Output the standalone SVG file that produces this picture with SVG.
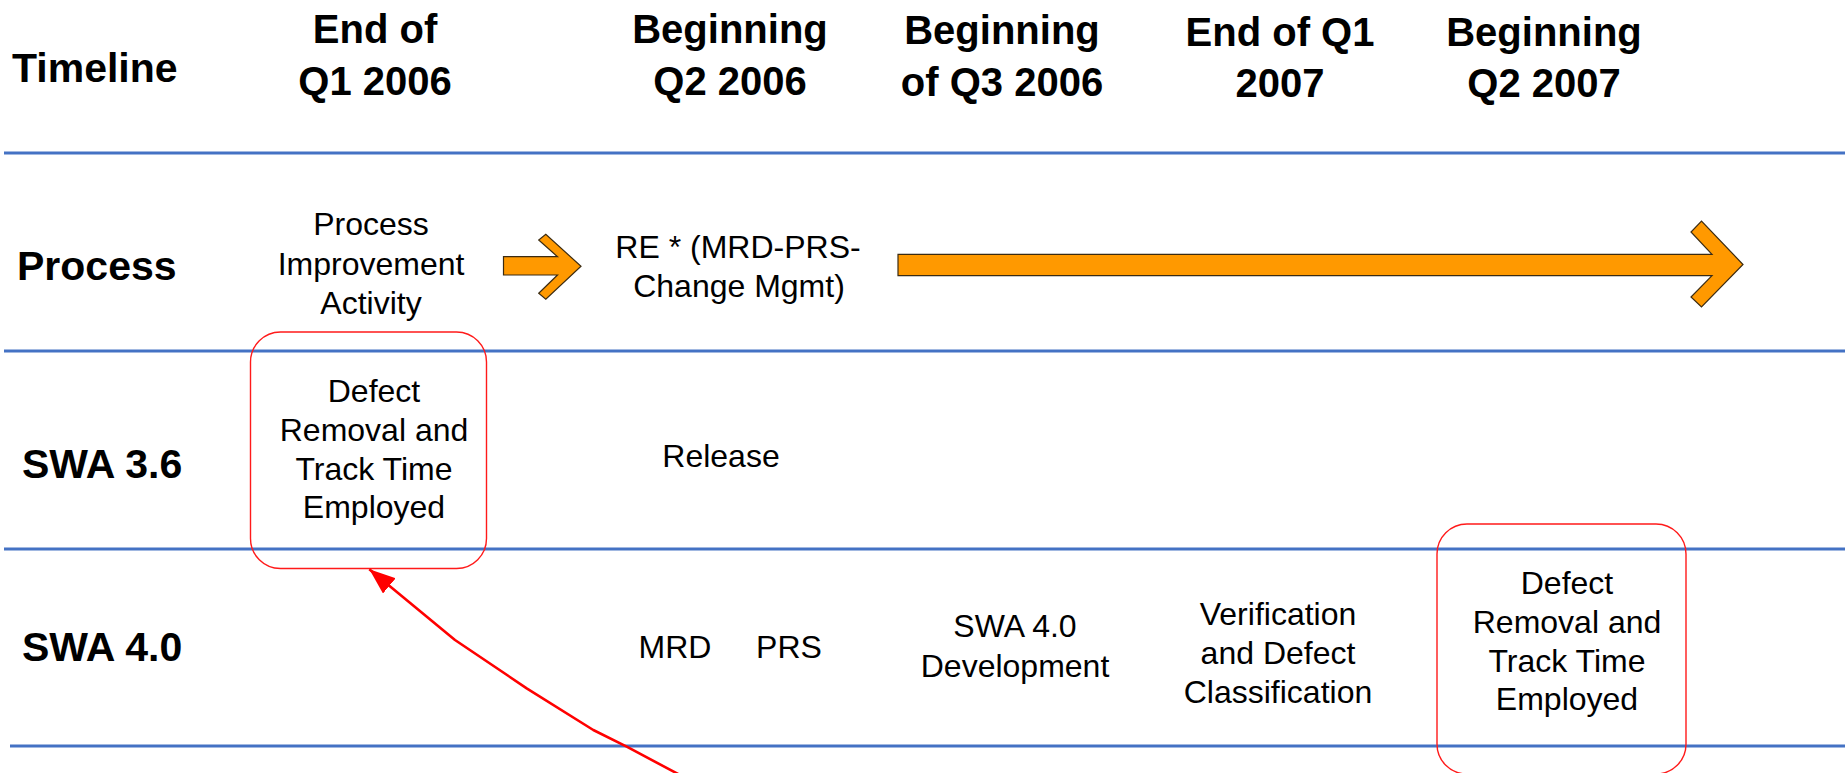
<svg xmlns="http://www.w3.org/2000/svg" width="1845" height="773" viewBox="0 0 1845 773">
  <style>
    .bold { font-family: "Liberation Sans", Arial, sans-serif; font-weight: bold; font-size: 40px; fill: #000; }
    .lane { font-size: 41px; }
    .body { font-family: "Liberation Sans", Arial, sans-serif; font-size: 32px; fill: #000; text-anchor: middle; }
    .hdr { text-anchor: middle; }
    .rule { stroke: #4472c4; stroke-width: 3; fill: none; }
    .block { fill: #ff9900; stroke: #3b2b12; stroke-width: 1.2; stroke-linejoin: miter; }
    .callout { fill: none; stroke: #ff1a1a; stroke-width: 1.4; }
    .pointer { fill: none; stroke: #ff0000; stroke-width: 2.6; stroke-linejoin: round; }
  </style>
  <defs>
    <marker id="redHead" markerUnits="userSpaceOnUse" markerWidth="30" markerHeight="24" refX="26" refY="10" orient="auto">
      <path d="M0,0 L26,10 L0,20 Z" fill="#ff0000"/>
    </marker>
  </defs>

  <rect width="1845" height="773" fill="#ffffff"/>

  <!-- swimlane rules -->
  <g id="rules">
    <line class="rule" x1="4" y1="153" x2="1845" y2="153"/>
    <line class="rule" x1="4" y1="351" x2="1845" y2="351"/>
    <line class="rule" x1="4" y1="549" x2="1845" y2="549"/>
    <line class="rule" x1="10" y1="746" x2="1845" y2="746"/>
  </g>

  <!-- column headings -->
  <g id="header-timeline"><text class="bold lane" x="12" y="82">Timeline</text></g>
  <g id="header-q1-2006" class="bold hdr">
    <text x="375" y="43">End of</text>
    <text x="375" y="95">Q1 2006</text>
  </g>
  <g id="header-q2-2006" class="bold hdr">
    <text x="730" y="43">Beginning</text>
    <text x="730" y="95">Q2 2006</text>
  </g>
  <g id="header-q3-2006" class="bold hdr">
    <text x="1002" y="44">Beginning</text>
    <text x="1002" y="96">of Q3 2006</text>
  </g>
  <g id="header-q1-2007" class="bold hdr">
    <text x="1280" y="46">End of Q1</text>
    <text x="1280" y="97">2007</text>
  </g>
  <g id="header-q2-2007" class="bold hdr">
    <text x="1544" y="46">Beginning</text>
    <text x="1544" y="97">Q2 2007</text>
  </g>

  <!-- row labels -->
  <g id="row-process"><text class="bold lane" x="17" y="280">Process</text></g>
  <g id="row-swa36"><text class="bold lane" x="22" y="478">SWA 3.6</text></g>
  <g id="row-swa40"><text class="bold lane" x="22" y="661">SWA 4.0</text></g>

  <!-- process lane -->
  <g id="process-improvement" class="body">
    <text x="371" y="235">Process</text>
    <text x="371" y="275">Improvement</text>
    <text x="371" y="314">Activity</text>
  </g>
  <g id="re-mrd-prs" class="body">
    <text x="738" y="258">RE * (MRD-PRS-</text>
    <text x="739" y="297">Change Mgmt)</text>
  </g>

  <!-- SWA 3.6 lane -->
  <g id="swa36-defect">
    <rect class="callout" x="250.5" y="332" width="236" height="236.5" rx="30" ry="30"/>
    <g class="body">
      <text x="374" y="402">Defect</text>
      <text x="374" y="441">Removal and</text>
      <text x="374" y="479.5">Track Time</text>
      <text x="374" y="518">Employed</text>
    </g>
  </g>
  <g id="swa36-release"><text class="body" x="721" y="467">Release</text></g>

  <!-- SWA 4.0 lane -->
  <g id="swa40-mrd"><text class="body" x="675" y="658">MRD</text></g>
  <g id="swa40-prs"><text class="body" x="789" y="658">PRS</text></g>
  <g id="swa40-development" class="body">
    <text x="1015" y="637">SWA 4.0</text>
    <text x="1015" y="677">Development</text>
  </g>
  <g id="swa40-verification" class="body">
    <text x="1278" y="625">Verification</text>
    <text x="1278" y="664">and Defect</text>
    <text x="1278" y="703">Classification</text>
  </g>
  <g id="swa40-defect">
    <rect class="callout" x="1437" y="524" width="249" height="250" rx="30" ry="30"/>
    <g class="body">
      <text x="1567" y="594">Defect</text>
      <text x="1567" y="633">Removal and</text>
      <text x="1567" y="671.5">Track Time</text>
      <text x="1567" y="710">Employed</text>
    </g>
  </g>

  <!-- connectors -->
  <g id="connectors">
    <path class="block" d="M503.5,256.7 L557.5,256.7 L538.7,240 L545.8,234.3 L581,266.3 L545.8,299.3 L538.7,293.3 L557.5,275 L503.5,275 Z"/>
    <path class="block" d="M898,254.3 L1712,254.3 L1691,232 L1701.5,221 L1743,264.5 L1701.5,307 L1691,297 L1712,275.7 L898,275.7 Z"/>
    <path class="pointer" marker-end="url(#redHead)" d="M680,775 L626.7,746.7 L593.3,730 L526.7,688.3 L455,640 L369.3,569.3"/>
  </g>
</svg>
